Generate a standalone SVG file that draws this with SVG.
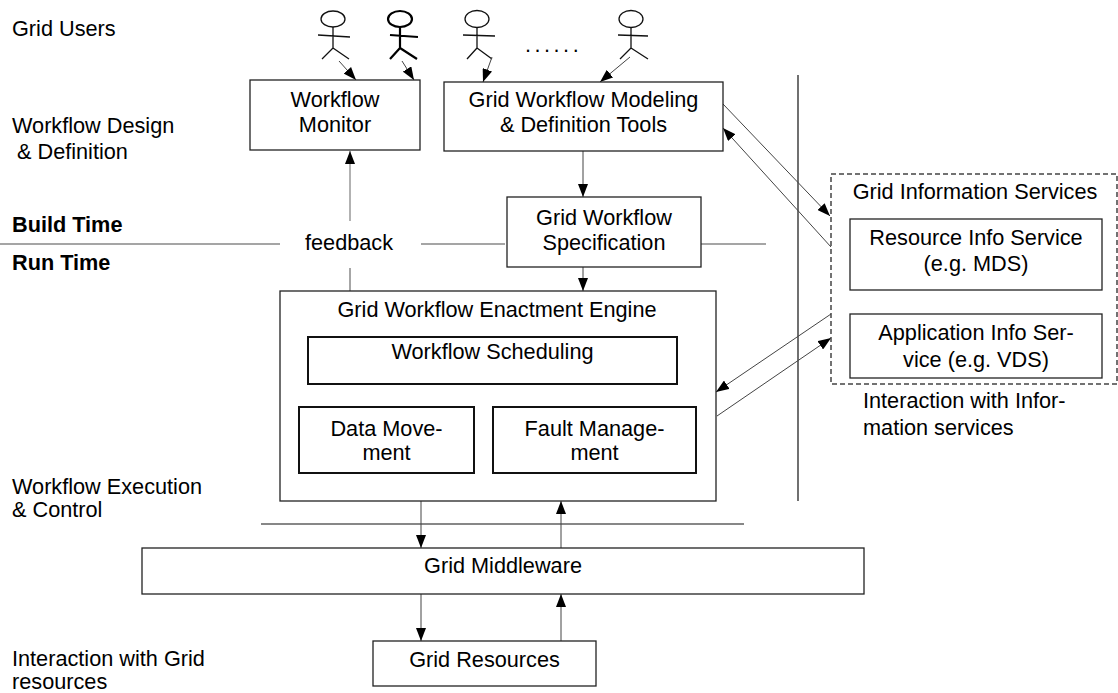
<svg xmlns="http://www.w3.org/2000/svg" width="1118" height="693" viewBox="0 0 1118 693">
<style>
text{font-family:"Liberation Sans",Arial,sans-serif;font-size:21.7px;fill:#000}
.c{text-anchor:middle}
.b{font-weight:bold}
.box{fill:#fff;stroke:#222;stroke-width:1.3}
.thick{fill:#fff;stroke:#111;stroke-width:2}
.fig{fill:none;stroke:#111;stroke-width:1.3}
.figb{fill:none;stroke:#000;stroke-width:2.2}
.gray{stroke:#888;stroke-width:1.5;fill:none}
.arr{stroke:#444;stroke-width:1;fill:none;marker-end:url(#ah)}
.arrg{stroke:#999;stroke-width:1.5;fill:none;marker-end:url(#ah)}
.ln{stroke:#111;stroke-width:1.2;fill:none}
</style>
<defs>
<marker id="ah" markerUnits="userSpaceOnUse" markerWidth="14" markerHeight="10" refX="13" refY="5" orient="auto">
<path d="M0,0 L13,5 L0,10 z" fill="#000"/>
</marker>
</defs>
<rect width="1118" height="693" fill="#fff"/>

<g id="labels">
<text x="12" y="36">Grid Users</text>
<text x="12" y="133">Workflow Design</text>
<text x="17" y="159">&amp; Definition</text>
<text x="12" y="232" class="b">Build Time</text>
<text x="12" y="270" class="b">Run Time</text>
<text x="12" y="494">Workflow Execution</text>
<text x="12" y="517">&amp; Control</text>
<text x="12" y="666">Interaction with Grid</text>
<text x="12" y="689">resources</text>
<text x="525" y="52" style="letter-spacing:3.5px">......</text>
</g>

<g id="users">
<g id="user1" class="fig">
<ellipse cx="333" cy="19" rx="12" ry="8"/>
<path d="M333,27 V48 M318,35 L350,37 M333,48 L322,59 M333,48 L349,59"/>
</g>
<g id="user2" class="figb">
<ellipse cx="400" cy="19" rx="12" ry="8"/>
<path d="M400,27 V48 M390,35 L418,37 M400,48 L390,59 M400,48 L417,59"/>
</g>
<g id="user3" class="fig">
<ellipse cx="477" cy="19" rx="12" ry="8.5"/>
<path d="M477,27.5 V48 M463,35 L495,36 M477,48 L467,59 M477,48 L492,59"/>
</g>
<g id="user4" class="fig">
<ellipse cx="631" cy="19" rx="12" ry="8.5"/>
<path d="M631,27.5 V48 M618,35 L648,36 M631,48 L620,59 M631,48 L648,59"/>
</g>
</g>

<g id="connectors">
<path class="gray" d="M0,244 H280 M421,244 H505 M701,244 H766"/>
<path class="gray" d="M350,268 V291"/>
<path class="arrg" d="M350,221 V151"/>
<path class="ln" d="M798,75 V501"/>
<path class="ln" d="M261,524 H744"/>
<path class="arr" d="M339,61 L356,80"/>
<path class="arr" d="M402,61 L414,80"/>
<path class="arr" d="M492,57 L483,82"/>
<path class="arr" d="M630,57 L600,82"/>
<path class="arr" d="M583,151 V197"/>
<path class="arr" d="M583,267 V291"/>
<path class="arr" stroke="#111" d="M723,104 L830,216"/>
<path class="arr" stroke="#999" d="M831,247 L723,128"/>
<path class="arr" d="M831,314 L716,392"/>
<path class="arr" d="M717,416 L831,338"/>
<path class="arr" stroke="#777" d="M421,501 V548"/>
<path class="arr" stroke="#777" d="M561,548 V501"/>
<path class="arr" stroke="#777" d="M421,594 V641"/>
<path class="arr" stroke="#777" d="M561,641 V594"/>
</g>

<g id="monitor">
<rect class="box" x="250" y="80" width="170" height="70"/>
<text class="c" x="335" y="107">Workflow</text>
<text class="c" x="335" y="132">Monitor</text>
</g>

<g id="modeling">
<rect class="box" x="444" y="82" width="279" height="69"/>
<text class="c" x="583.5" y="107">Grid Workflow Modeling</text>
<text class="c" x="583.5" y="132">&amp; Definition Tools</text>
</g>

<g id="feedback">
<text class="c" x="349" y="250">feedback</text>
</g>

<g id="spec">
<rect class="box" x="507" y="197" width="194" height="70"/>
<text class="c" x="604" y="225">Grid Workflow</text>
<text class="c" x="604" y="250">Specification</text>
</g>

<g id="engine">
<rect class="box" x="280" y="291" width="436" height="210"/>
<text class="c" x="497" y="317">Grid Workflow Enactment Engine</text>
</g>

<g id="scheduling">
<rect class="thick" x="308" y="337" width="369" height="47"/>
<text class="c" x="492.5" y="359">Workflow Scheduling</text>
</g>

<g id="datamove">
<rect class="thick" x="299" y="407" width="175" height="66"/>
<text class="c" x="386.5" y="436">Data Move-</text>
<text class="c" x="386.5" y="460">ment</text>
</g>

<g id="fault">
<rect class="thick" x="493" y="407" width="203" height="66"/>
<text class="c" x="594.5" y="436">Fault Manage-</text>
<text class="c" x="594.5" y="460">ment</text>
</g>

<g id="gis">
<rect x="831" y="174" width="286" height="210" fill="none" stroke="#444" stroke-width="1.5" stroke-dasharray="5,3"/>
<text class="c" x="975" y="199">Grid Information Services</text>
</g>

<g id="resinfo">
<rect class="box" x="850" y="219" width="252" height="71"/>
<text class="c" x="976" y="245">Resource Info Service</text>
<text class="c" x="976" y="271">(e.g. MDS)</text>
</g>

<g id="appinfo">
<rect class="box" x="850" y="314" width="252" height="64"/>
<text class="c" x="976" y="340">Application Info Ser-</text>
<text class="c" x="976" y="367">vice (e.g. VDS)</text>
</g>

<g id="interaction">
<text x="863" y="408">Interaction with Infor-</text>
<text x="863" y="435">mation services</text>
</g>

<g id="middleware">
<rect class="box" x="142" y="548" width="722" height="46"/>
<text class="c" x="503" y="573">Grid Middleware</text>
</g>

<g id="resources">
<rect class="box" x="373" y="641" width="223" height="45"/>
<text class="c" x="484.5" y="667">Grid Resources</text>
</g>
</svg>
